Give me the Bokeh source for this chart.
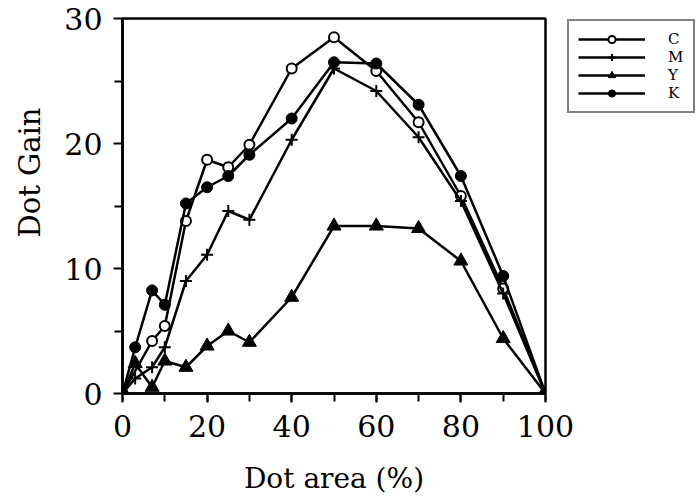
from bokeh.plotting import figure
from bokeh.models import Range1d, Legend, LegendItem, FixedTicker, Title
from bokeh.embed import file_html
from bokeh.resources import INLINE

# Dot area (%) for each measured patch
dot_area = [0, 3, 7, 10, 15, 20, 25, 30, 40, 50, 60, 70, 80, 90, 100]
c_area = [0, 7, 10, 15, 20, 25, 30, 40, 50, 60, 70, 80, 90, 100]
c_gain = [0, 4.2, 5.4, 13.8, 18.7, 18.1, 19.9, 26.0, 28.5, 25.8, 21.7, 15.8, 8.4, 0]
m_gain = [0, 1.2, 2.1, 3.7, 9.0, 11.1, 14.6, 13.9, 20.3, 26.0, 24.2, 20.5, 15.4, 8.0, 0]
y_gain = [0, 2.4, 0.5, 2.6, 2.1, 3.8, 5.0, 4.1, 7.7, 13.4, 13.4, 13.2, 10.6, 4.4, 0]
k_gain = [0, 3.7, 8.25, 7.1, 15.2, 16.5, 17.4, 19.1, 22.0, 26.5, 26.4, 23.1, 17.4, 9.4, 0]

series_names = ["C", "M", "Y", "K"]
x_ticks = [0, 20, 40, 60, 80, 100]
y_ticks = [0, 10, 20, 30]

FONT = "DejaVu Serif"

p = figure(frame_width=423, frame_height=375, output_backend="svg", toolbar_location=None,
           x_range=Range1d(0, 100), y_range=Range1d(0, 30),
           min_border_left=122, min_border_right=151, min_border_top=18,
           min_border_bottom=104)
p.grid.visible = False
p.outline_line_color = "black"
p.outline_line_width = 2.5
p.background_fill_color = "white"
p.border_fill_color = "white"

lw = 2.5
rc_line = p.line(c_area, c_gain, line_color="black", line_width=lw)
rc_mark = p.scatter(c_area, c_gain, marker="circle", size=10, fill_color="white",
                    line_color="black", line_width=2)
rm_line = p.line(dot_area, m_gain, line_color="black", line_width=lw)
rm_mark = p.scatter(dot_area, m_gain, marker="cross", size=12, line_color="black", line_width=2)
ry_line = p.line(dot_area, y_gain, line_color="black", line_width=lw)
ry_mark = p.scatter(dot_area, y_gain, marker="triangle", size=14, fill_color="black",
                    line_color="black")
rk_line = p.line(dot_area, k_gain, line_color="black", line_width=lw)
rk_mark = p.scatter(dot_area, k_gain, marker="circle", size=11, fill_color="black",
                    line_color="black")

for ax in (p.xaxis[0], p.yaxis[0]):
    ax.axis_line_width = 2.5
    ax.axis_line_color = "black"
    ax.major_tick_line_width = 2
    ax.minor_tick_line_width = 2
    ax.major_tick_in = 0
    ax.minor_tick_in = 0
    ax.major_tick_out = 9
    ax.minor_tick_out = 8
    ax.major_label_text_font = FONT
    ax.major_label_text_font_size = "30px"
    ax.major_label_text_color = "black"
    ax.axis_label_text_font = FONT
    ax.axis_label_text_font_size = "28px"
    ax.axis_label_text_font_style = "normal"
    ax.axis_label_text_color = "black"

p.xaxis[0].ticker = FixedTicker(ticks=x_ticks, minor_ticks=list(range(0, 101, 10)))
p.yaxis[0].ticker = FixedTicker(ticks=y_ticks, minor_ticks=[5, 15, 25])
p.xaxis[0].axis_label = "Dot area (%)"
p.xaxis[0].major_label_standoff = 12
p.yaxis[0].major_label_standoff = 11
p.xaxis[0].axis_label_standoff = 22

ytitle = Title(text="Dot Gain", align="left", offset=156, text_font=FONT,
               text_font_size="29px", text_font_style="normal", text_color="black",
               standoff=25, vertical_align="top")
p.add_layout(ytitle, "left")

legend = Legend(items=[
    LegendItem(label=series_names[0], renderers=[rc_line, rc_mark]),
    LegendItem(label=series_names[1], renderers=[rm_line, rm_mark]),
    LegendItem(label=series_names[2], renderers=[ry_line, ry_mark]),
    LegendItem(label=series_names[3], renderers=[rk_line, rk_mark]),
], location=(22, 280))
legend.glyph_width = 67
legend.glyph_height = 18
legend.spacing = 0
legend.padding = 9
legend.margin = 0
legend.label_standoff = 23
legend.label_width = 16
legend.label_height = 18
legend.label_text_font = FONT
legend.label_text_font_size = "15px"
legend.label_text_color = "black"
legend.border_line_color = "black"
legend.border_line_width = 2.5
legend.background_fill_color = "white"
legend.background_fill_alpha = 1
p.add_layout(legend, "right")

open("out.html", "w").write(file_html(p, INLINE))
